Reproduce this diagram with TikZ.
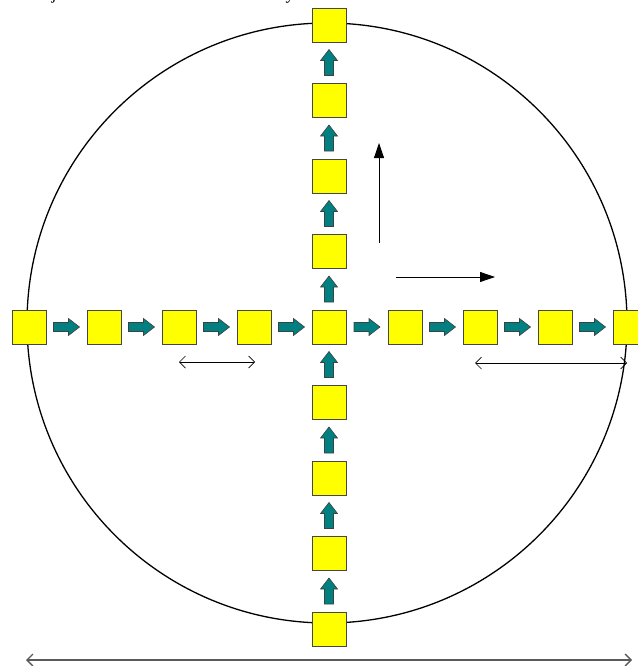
\documentclass[tikz,border=0pt]{standalone}
\usepackage{fontspec}
\setmainfont{Liberation Serif}
\usetikzlibrary{arrows.meta,calc}
\definecolor{cellyellow}{RGB}{255,255,0}
\definecolor{flowteal}{RGB}{0,128,128}
\definecolor{celledge}{RGB}{70,70,70}
\definecolor{rulegray}{RGB}{90,90,90}

\begin{document}
\begin{tikzpicture}[x=1pt,y=-1pt,
  cell/.style={draw=celledge, line width=0.8pt, fill=cellyellow,
               minimum size=34pt, inner sep=0pt, outer sep=0pt},
  pics/flow/.style={code={
    \filldraw[fill=flowteal, draw=black!75, line width=0.6pt]
      (-13,-4.5) -- (2,-4.5) -- (2,-8.5) -- (13,0) -- (2,8.5) -- (2,4.5) -- (-13,4.5) -- cycle;}},
  pointer/.style={line width=0.8pt, -{Triangle[length=15pt,width=10pt]}},
  span/.style={line width=0.7pt, {Straight Barb[length=6pt,width=12pt]}-{Straight Barb[length=6pt,width=12pt]}},
]
\useasboundingbox (0,0) rectangle (637,666);

% heading line, only its descenders reach below the page edge
\begin{scope}
  \clip (0,0) rectangle (637,666);
  \node[anchor=base west, inner sep=0pt, font=\fontsize{17.6}{20}\selectfont] (heading) at (0,-0.5)
    {Add adjacent cells as and when necessary};
\end{scope}

% outer boundary
\draw[line width=1.3pt] (327,323) circle[radius=300];

% horizontal row of cells
\foreach \x [count=\i] in {29,104,179,254} \node[cell] (w\i) at (\x,327) {};
\node[cell] (hub) at (329,327) {};
\foreach \x [count=\i] in {405,480,555,630} \node[cell] (e\i) at (\x,327) {};

% vertical column of cells
\foreach \y [count=\i] in {251,176,100,25} \node[cell] (n\i) at (329,\y) {};
\foreach \y [count=\i] in {402,478,553,629} \node[cell] (s\i) at (329,\y) {};

% flow arrows, left to right
\pic at ($(w1)!0.5!(w2)$) {flow};
\pic at ($(w2)!0.5!(w3)$) {flow};
\pic at ($(w3)!0.5!(w4)$) {flow};
\pic at ($(w4)!0.5!(hub)$) {flow};
\pic at ($(hub)!0.5!(e1)$) {flow};
\pic at ($(e1)!0.5!(e2)$) {flow};
\pic at ($(e2)!0.5!(e3)$) {flow};
\pic at ($(e3)!0.5!(e4)$) {flow};

% flow arrows, bottom to top
\pic[rotate=90] at ($(s4)!0.5!(s3)$) {flow};
\pic[rotate=90] at ($(s3)!0.5!(s2)$) {flow};
\pic[rotate=90] at ($(s2)!0.5!(s1)$) {flow};
\pic[rotate=90] at ($(s1)!0.5!(hub)$) {flow};
\pic[rotate=90] at ($(hub)!0.5!(n1)$) {flow};
\pic[rotate=90] at ($(n1)!0.5!(n2)$) {flow};
\pic[rotate=90] at ($(n2)!0.5!(n3)$) {flow};
\pic[rotate=90] at ($(n3)!0.5!(n4)$) {flow};

% axis pointers
\coordinate (upfrom) at (379,243);
\coordinate (upto) at (379,143);
\draw[pointer] (upfrom) -- (upto);
\coordinate (rtfrom) at (396,277);
\coordinate (rtto) at (495,277);
\draw[pointer] (rtfrom) -- (rtto);

% spacing and size markers
\coordinate (gapL) at (179,362);
\coordinate (gapR) at (255,362);
\draw[span] (gapL) -- (gapR);
\coordinate (radL) at (475,363);
\coordinate (radR) at (627,363);
\draw[span] (radL) -- (radR);
\coordinate (diaL) at (26,660);
\coordinate (diaR) at (632,660);
\draw[span, draw=rulegray, line width=1.3pt] (diaL) -- (diaR);
\end{tikzpicture}
\end{document}
